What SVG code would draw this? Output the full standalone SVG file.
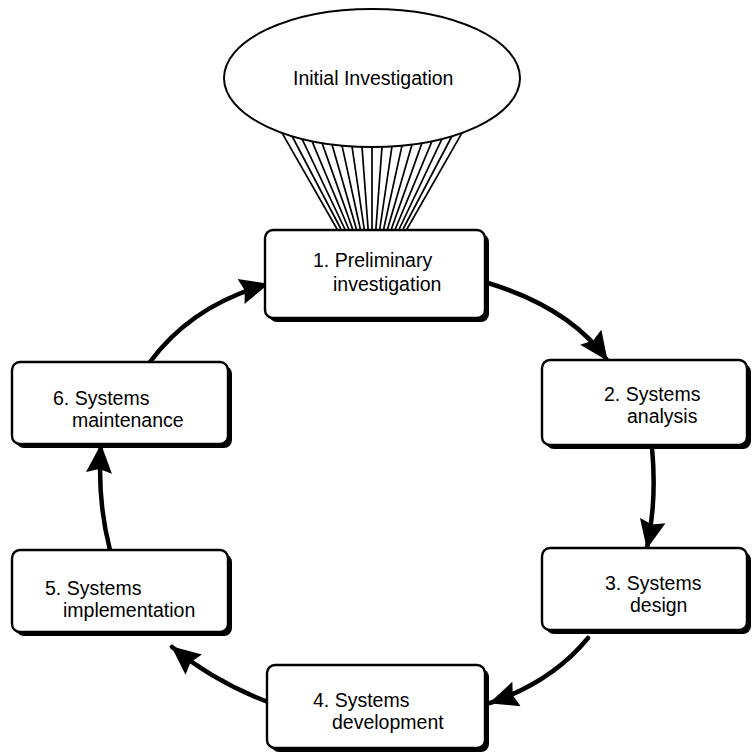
<svg xmlns="http://www.w3.org/2000/svg" width="753" height="754" viewBox="0 0 753 754">
  <style>
    .lbl { font-family: "Liberation Sans", Arial, sans-serif; font-size: 19.5px; fill: #000; }
    .box { fill: #fff; stroke: #000; stroke-width: 2.4; }
    .shadow { fill: #000; }
    .flow { fill: none; stroke: #000; stroke-width: 4.5; stroke-linecap: round; }
    .fan line { stroke: #000; stroke-width: 1.7; }
  </style>
  <defs>
    <marker id="head" markerUnits="userSpaceOnUse" markerWidth="30" markerHeight="30" viewBox="0 0 30 30" refX="28" refY="15" orient="auto">
      <path d="M0,2 L29,15 L0,28 L4,15 Z" fill="#000"/>
    </marker>
  </defs>

  <rect width="753" height="754" fill="#fff"/>

  <!-- Fan of lines from the ellipse down to stage 1 -->
  <g id="fan" class="fan">
    <line x1="282" y1="132.8" x2="337" y2="229"/>
    <line x1="292" y1="136.0" x2="340.9" y2="229"/>
    <line x1="302" y1="138.8" x2="344.8" y2="229"/>
    <line x1="312" y1="141.1" x2="348.7" y2="229"/>
    <line x1="322" y1="142.9" x2="352.6" y2="229"/>
    <line x1="332" y1="144.4" x2="356.4" y2="229"/>
    <line x1="342" y1="145.6" x2="360.3" y2="229"/>
    <line x1="352" y1="146.4" x2="364.2" y2="229"/>
    <line x1="362" y1="146.8" x2="368.1" y2="229"/>
    <line x1="372" y1="147" x2="372" y2="229"/>
    <line x1="382" y1="146.8" x2="375.9" y2="229"/>
    <line x1="392" y1="146.4" x2="379.8" y2="229"/>
    <line x1="402" y1="145.6" x2="383.7" y2="229"/>
    <line x1="412" y1="144.4" x2="387.6" y2="229"/>
    <line x1="422" y1="142.9" x2="391.4" y2="229"/>
    <line x1="432" y1="141.1" x2="395.3" y2="229"/>
    <line x1="442" y1="138.8" x2="399.2" y2="229"/>
    <line x1="452" y1="136.0" x2="403.1" y2="229"/>
    <line x1="462" y1="132.8" x2="407" y2="229"/>
  </g>

  <!-- Cycle connectors -->
  <g id="connectors">
    <path class="flow" d="M488,283 Q570,308 607,360" marker-end="url(#head)"/>
    <path class="flow" d="M652,448 Q657,500 647,548" marker-end="url(#head)"/>
    <path class="flow" d="M588,638 Q552,682 490,703" marker-end="url(#head)"/>
    <path class="flow" d="M268,702 Q215,682 172,647" marker-end="url(#head)"/>
    <path class="flow" d="M110,550 Q97,500 101,445" marker-end="url(#head)"/>
    <path class="flow" d="M150,362 Q192,305 268,284" marker-end="url(#head)"/>
  </g>

  <g id="initial">
    <ellipse cx="372" cy="78" rx="148" ry="69" fill="#fff" stroke="#000" stroke-width="2"/>
    <text class="lbl" x="293" y="85">Initial Investigation</text>
  </g>

  <g id="stage1">
    <rect class="shadow" x="269" y="234" width="220" height="88" rx="8"/>
    <rect class="box" x="265" y="230" width="220" height="88" rx="8"/>
    <text class="lbl" x="313" y="267">1. Preliminary</text>
    <text class="lbl" x="333" y="291">investigation</text>
  </g>

  <g id="stage2">
    <rect class="shadow" x="546" y="364" width="205" height="85" rx="8"/>
    <rect class="box" x="542" y="360" width="205" height="85" rx="8"/>
    <text class="lbl" x="604" y="401">2. Systems</text>
    <text class="lbl" x="627" y="423">analysis</text>
  </g>

  <g id="stage3">
    <rect class="shadow" x="546" y="552" width="205" height="82" rx="8"/>
    <rect class="box" x="542" y="548" width="205" height="82" rx="8"/>
    <text class="lbl" x="605" y="590">3. Systems</text>
    <text class="lbl" x="630" y="612">design</text>
  </g>

  <g id="stage4">
    <rect class="shadow" x="271" y="669" width="218" height="83" rx="8"/>
    <rect class="box" x="267" y="665" width="218" height="83" rx="8"/>
    <text class="lbl" x="313" y="707">4. Systems</text>
    <text class="lbl" x="332" y="729">development</text>
  </g>

  <g id="stage5">
    <rect class="shadow" x="16" y="554" width="216" height="82" rx="8"/>
    <rect class="box" x="12" y="550" width="216" height="82" rx="8"/>
    <text class="lbl" x="45" y="595">5. Systems</text>
    <text class="lbl" x="63" y="617">implementation</text>
  </g>

  <g id="stage6">
    <rect class="shadow" x="16" y="366" width="216" height="82" rx="8"/>
    <rect class="box" x="12" y="362" width="216" height="82" rx="8"/>
    <text class="lbl" x="53" y="405">6. Systems</text>
    <text class="lbl" x="72" y="427">maintenance</text>
  </g>
</svg>
